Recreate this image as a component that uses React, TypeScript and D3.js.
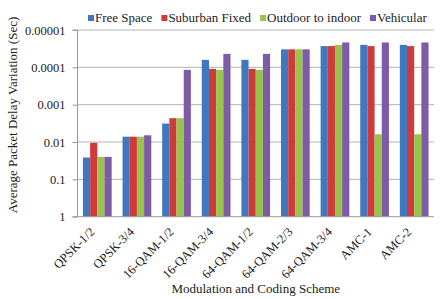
import React, { useEffect, useRef } from "react";
import * as d3 from "d3";

const categories = ["QPSK-1/2", "QPSK-3/4", "16-QAM-1/2", "16-QAM-3/4", "64-QAM-1/2", "64-QAM-2/3", "64-QAM-3/4", "AMC-1", "AMC-2"];
const seriesNames = ["Free Space", "Suburban Fixed", "Outdoor to indoor", "Vehicular"];
const freeSpace = [0.026, 0.0072, 0.0032, 0.000063, 0.000063, 0.000033, 0.000027, 0.000025, 0.000025];
const suburbanFixed = [0.0105, 0.0072, 0.0023, 0.00011, 0.00011, 0.000033, 0.000027, 0.000027, 0.000027];
const outdoorToIndoor = [0.025, 0.0072, 0.0023, 0.000117, 0.000117, 0.000033, 0.000025, 0.0062, 0.0062];
const vehicular = [0.025, 0.0066, 0.000117, 0.0000436, 0.0000436, 0.000033, 0.0000216, 0.0000216, 0.0000216];
const yTicks = [1, 0.1, 0.01, 0.001, 0.0001, 0.00001];
const yTickLabels = ["1", "0.1", "0.01", "0.001", "0.0001", "0.00001"];
const colors = ["#3F77C0", "#CF3B3B", "#98C44C", "#7D5BA5"];

const W = 442, H = 299;
const FONT = "'Liberation Serif', 'Times New Roman', serif";

export default function App() {
  const ref = useRef<SVGSVGElement>(null);
  useEffect(() => {
    const svg = d3.select(ref.current);
    svg.selectAll("*").remove();
    const values = [freeSpace, suburbanFixed, outdoorToIndoor, vehicular];
    const left = 77.5, right = 434, top = 30, bottom = 216.7;
    const x = d3.scaleBand<string>().domain(categories).range([left, right]).paddingInner(0.275).paddingOuter(0.1375);
    const xs = d3.scaleBand<string>().domain(seriesNames).range([0, x.bandwidth()]);
    const y = d3.scaleLog().domain([1, 1e-5]).range([bottom, top]);

    // gridlines
    svg.append("g").selectAll("line").data(yTicks.slice(1)).join("line")
      .attr("x1", left).attr("x2", right)
      .attr("y1", d => y(d)).attr("y2", d => y(d))
      .attr("stroke", "#b3b3b3").attr("stroke-width", 1);

    // bars
    const g = svg.append("g");
    values.forEach((vals, si) => {
      g.append("g").selectAll("rect").data(vals).join("rect")
        .attr("x", (_, i) => (x(categories[i]) as number) + (xs(seriesNames[si]) as number))
        .attr("width", xs.bandwidth())
        .attr("y", d => y(d))
        .attr("height", d => y(1) - y(d))
        .attr("fill", colors[si]);
    });

    // y axis
    const yAxis = d3.axisLeft(y).tickValues(yTicks).tickSize(5).tickPadding(7)
      .tickFormat((d, i) => yTickLabels[i]);
    const ya = svg.append("g").attr("transform", `translate(${left},0)`).call(yAxis as any);
    ya.attr("font-family", FONT);
    ya.select(".domain").attr("stroke", "#9a9a9a").attr("d", `M-5,${bottom}H0V${top}H-5`);
    ya.selectAll(".tick line").attr("stroke", "#9a9a9a");
    ya.selectAll("text").attr("font-family", FONT).attr("font-size", 12.5).attr("fill", "#222");

    // x axis line
    svg.append("line").attr("x1", left).attr("x2", right).attr("y1", bottom).attr("y2", bottom)
      .attr("stroke", "#9a9a9a");

    // x labels
    svg.append("g").selectAll("text").data(categories).join("text")
      .attr("transform", d => `translate(${(x(d) as number) + x.bandwidth() / 2 - 2},${bottom + 16}) rotate(-45)`)
      .attr("text-anchor", "end")
      .attr("font-family", FONT).attr("font-size", 12.5).attr("fill", "#222")
      .text(d => d);

    // axis titles
    svg.append("text").attr("x", (left + right) / 2).attr("y", 293).attr("text-anchor", "middle")
      .attr("font-family", FONT).attr("font-size", 13).attr("fill", "#222").text("Modulation and Coding Scheme");
    svg.append("text").attr("transform", `translate(16.5,115) rotate(-90)`).attr("text-anchor", "middle")
      .attr("font-family", FONT).attr("font-size", 13).attr("fill", "#222").text("Average Packet Delay Variation (Sec)");

    // legend
    const lg = svg.append("g");
    let cx = 88;
    seriesNames.forEach((name, i) => {
      lg.append("rect").attr("x", cx).attr("y", 15).attr("width", 6).attr("height", 6).attr("fill", colors[i]);
      const t = lg.append("text").attr("x", cx + 7).attr("y", 22)
        .attr("font-family", FONT).attr("font-size", 13).attr("fill", "#222").text(name);
      const w = (t.node() as SVGTextElement).getComputedTextLength();
      cx = cx + 7 + w + 9;
    });
  }, []);
  return <svg ref={ref} width={W} height={H} style={{ position: "absolute", left: 0, top: 0, background: "#fff" }} />;
}
